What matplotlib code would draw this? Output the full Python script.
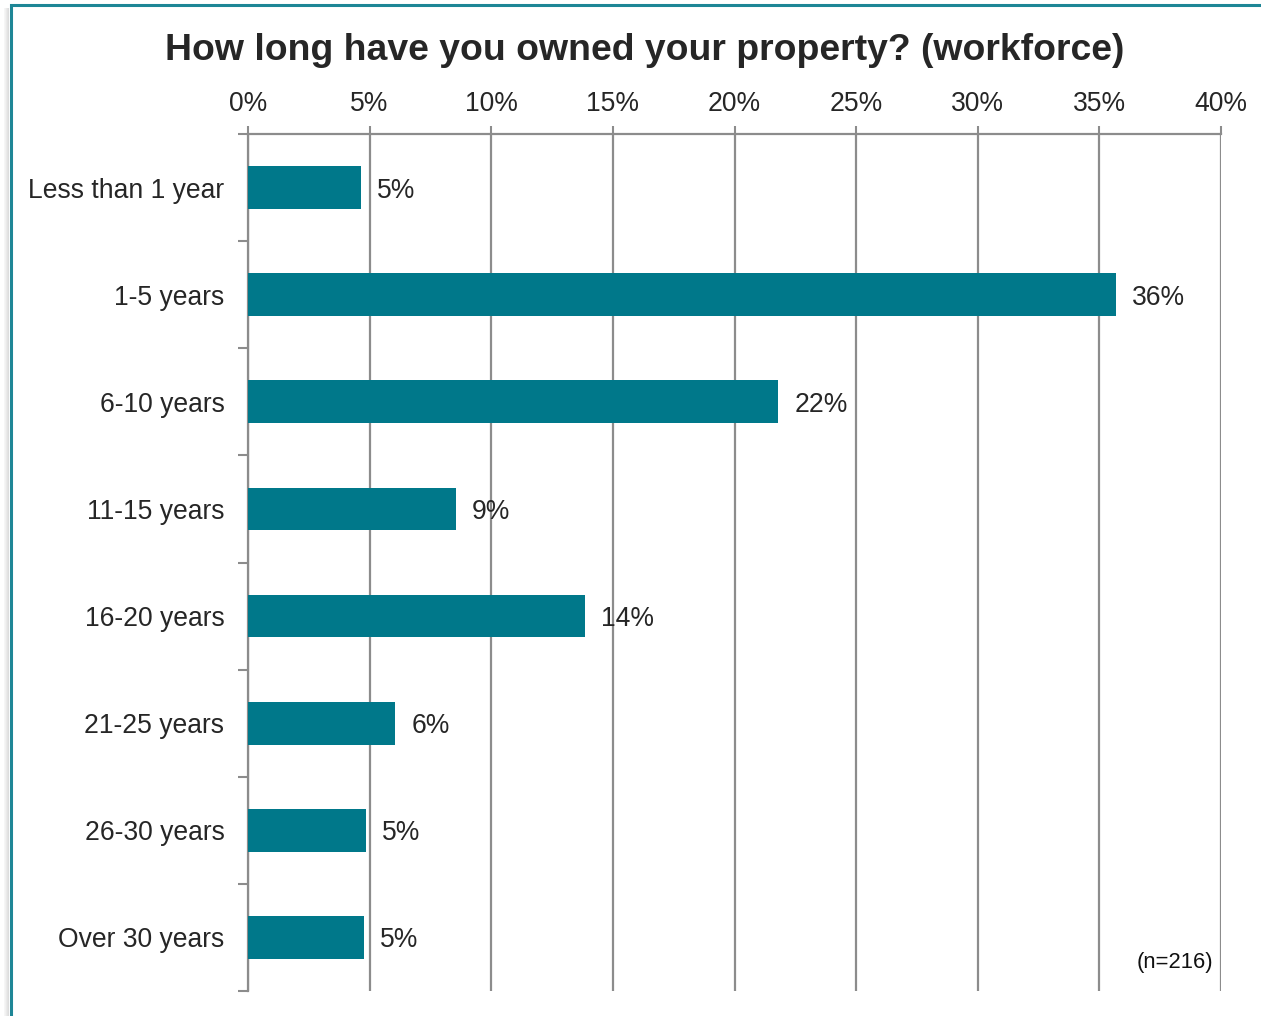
import matplotlib
matplotlib.use("Agg")
import matplotlib.pyplot as plt
from matplotlib.patches import Rectangle
from matplotlib.ticker import FixedLocator, PercentFormatter

plt.rcParams['font.family'] = ['Liberation Sans', 'DejaVu Sans']

categories = ["Less than 1 year", "1-5 years", "6-10 years", "11-15 years",
              "16-20 years", "21-25 years", "26-30 years", "Over 30 years"]
values = [4.65, 35.7, 21.8, 8.55, 13.85, 6.05, 4.85, 4.75]
labels = ["5%", "36%", "22%", "9%", "14%", "6%", "5%", "5%"]
xticks = [0, 5, 10, 15, 20, 25, 30, 35, 40]

W, H = 1261, 1016
fig = plt.figure(figsize=(W / 100, H / 100), dpi=100)
fig.patch.set_facecolor("white")

# frame with shadow
for i, a in enumerate([0.05, 0.08, 0.12, 0.16, 0.2]):
    fig.patches.append(Rectangle(((4 + i) / W, 0), 1 / W, 1 - 8 / H,
                                 transform=fig.transFigure, facecolor="#555555",
                                 alpha=a, edgecolor="none"))
fig.patches.append(Rectangle((11 / W, -0.1), 1.2, 1 - 5 / H + 0.1,
                             transform=fig.transFigure, facecolor="none",
                             edgecolor="#1e8696", linewidth=2.2))

text_color = "#262626"
grid_color = "#8c8c8c"
fs = 19.1

ax = fig.add_axes([248 / W, 1 - 991 / H, (1221 - 248) / W, (991 - 134) / H])
n = len(categories)
ypos = list(range(n))
ax.barh(ypos, values, height=0.4, color="#00788a", zorder=3)
ax.set_xlim(0, 40)
ax.set_ylim(n - 0.5, -0.5)

ax.xaxis.set_major_locator(FixedLocator(xticks))
ax.xaxis.set_major_formatter(PercentFormatter(decimals=0))
ax.xaxis.tick_top()
ax.tick_params(axis="x", which="major", length=6, width=1.5, color=grid_color,
               labelsize=fs, labelcolor=text_color, pad=6, direction="out")
ax.set_yticks(ypos)
ax.set_yticklabels(categories)
ax.tick_params(axis="y", which="major", length=0, labelsize=fs,
               labelcolor=text_color, pad=17)
ax.set_yticks([i + 0.5 for i in range(-1, n)], minor=True)
ax.tick_params(axis="y", which="minor", length=7, width=1.5, color=grid_color)

ax.grid(axis="x", color=grid_color, linewidth=1.6, zorder=0)
for s in ["right", "bottom"]:
    ax.spines[s].set_visible(False)
for s in ["left", "top"]:
    ax.spines[s].set_color(grid_color)
    ax.spines[s].set_linewidth(1.6)

for y, v, lab in zip(ypos, values, labels):
    ax.annotate(lab, xy=(v, y), xytext=(16, -3), textcoords="offset pixels",
                va="center", ha="left", fontsize=fs, color=text_color, zorder=4)

ax.text(0.992, 0.033, "(n=216)", transform=ax.transAxes, ha="right", va="center",
        fontsize=15.8, color="#111111")

fig.text(645 / W, 1 - 50 / H, "How long have you owned your property? (workforce)",
         ha="center", va="center", fontsize=26.9, fontweight="bold", color=text_color)

fig.savefig("out.png", dpi=100, facecolor="white")
